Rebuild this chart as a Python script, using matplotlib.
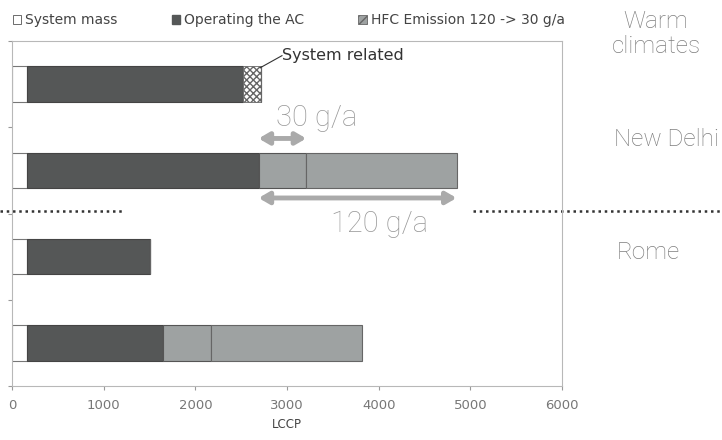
import matplotlib
matplotlib.use("Agg")
import matplotlib.pyplot as plt
from matplotlib.patches import Patch
from matplotlib.transforms import blended_transform_factory

# rows from top to bottom
rows = ["Warm climates", "New Delhi", "Rome", ""]
system_mass = [160, 160, 160, 160]
operating_ac = [2360, 2530, 1340, 1490]
system_related = [195, 0, 0, 0]
hfc_30 = [0, 520, 0, 520]
hfc_rest = [0, 1640, 0, 1650]

legend_labels = ["System mass", "Operating the AC", "HFC Emission 120 -> 30 g/a"]
xticks = [0, 1000, 2000, 3000, 4000, 5000, 6000]

DARK = "#555757"
LIGHT = "#9ea2a2"
TXT = "#999999"
THIN = "Roboto"

fig = plt.figure(figsize=(7.22, 4.4), dpi=100)
ax = fig.add_axes([12/722, 54/440, 550/722, 345/440])

y = list(range(len(rows)))
h = 0.41
left = [0]*4
ax.barh(y, system_mass, height=h, left=left, color="white", edgecolor="#777777", linewidth=0.8)
left = [a+b for a, b in zip(left, system_mass)]
ax.barh(y, operating_ac, height=h, left=left, color=DARK, edgecolor="#444444", linewidth=0.8)
left = [a+b for a, b in zip(left, operating_ac)]
ax.barh(y, system_related, height=h, left=left, color="white", edgecolor="#666666",
        hatch="xxxxx", linewidth=0.6)
left = [a+b for a, b in zip(left, system_related)]
ax.barh(y, hfc_30, height=h, left=left, color=LIGHT, edgecolor="#555555", linewidth=0.8)
left = [a+b for a, b in zip(left, hfc_30)]
ax.barh(y, hfc_rest, height=h, left=left, color=LIGHT, edgecolor="#666666", linewidth=0.8)

ax.set_xlim(0, 6000)
ax.set_ylim(3.5, -0.5)
ax.set_xticks(xticks)
ax.set_xticklabels([str(t) for t in xticks], fontsize=9.5, color="#777777", family="DejaVu Sans")
ax.set_yticks([-0.5, 0.5, 1.5, 2.5, 3.5])
ax.set_yticklabels([])
ax.tick_params(axis="both", length=3, color="#999999", width=0.8)
ax.tick_params(axis="x", pad=6)
for s in ax.spines.values():
    s.set_color("#b8b8b8")
    s.set_linewidth(0.8)
ax.set_xlabel("LCCP", fontsize=8.5, color="#444444", family="DejaVu Sans", labelpad=5)

# legend on top
handles = [Patch(facecolor="white", edgecolor="#555555", linewidth=0.6),
           Patch(facecolor=DARK, edgecolor=DARK),
           Patch(facecolor=LIGHT, edgecolor="#666666", hatch="////", linewidth=0.6)]
fig.legend(handles, legend_labels, loc="center left", bbox_to_anchor=(0.0, 1-20/440), ncol=3,
           frameon=False, handlelength=0.6, handleheight=0.6, handletextpad=0.3,
           columnspacing=3.9, prop={"family": "DejaVu Sans", "size": 10}, labelcolor="#444444")

# annotations
def_arrow = dict(arrowstyle="<|-|>,head_length=0.6,head_width=0.35", color="#aaaaaa", lw=3.5,
                 shrinkA=0, shrinkB=0)
ax.annotate("", xy=(2690, 0.63), xytext=(3210, 0.63), arrowprops=def_arrow, annotation_clip=False)
ax.annotate("", xy=(2690, 1.32), xytext=(4850, 1.32), arrowprops=def_arrow, annotation_clip=False)
ax.text(3320, 0.49, "30 g/a", fontsize=21, color=TXT, family=THIN, weight="light",
        ha="center", va="baseline")
ax.text(4010, 1.72, "120 g/a", fontsize=21, color=TXT, family=THIN, weight="light",
        ha="center", va="baseline")

ax.plot([2708, 2945], [-0.19, -0.33], color="#333333", lw=0.8)
ax.text(2950, -0.33, "System related", fontsize=11.5, color="#333333", family="DejaVu Sans",
        ha="left", va="center")

# divider between climates
tr = blended_transform_factory(fig.transFigure, ax.transData)
ax.plot([0, 122/722], [1.47, 1.47], transform=tr, ls=(0, (1, 1.5)), color="#333333", lw=1.8,
        clip_on=False)
ax.plot([473/722, 1], [1.47, 1.47], transform=tr, ls=(0, (1, 1.5)), color="#333333", lw=1.8,
        clip_on=False)

# right labels
lab = dict(fontsize=17.5, color="#7e7e7e", family=THIN, weight="light", ha="center", va="center")
fig.text(656/722, 1-34/440, "Warm\nclimates", linespacing=1.1, **lab)
fig.text(666/722, 1-140/440, "New Delhi", **lab)
fig.text(648/722, 1-252/440, "Rome", **lab)

fig.savefig("out.png", dpi=100)
